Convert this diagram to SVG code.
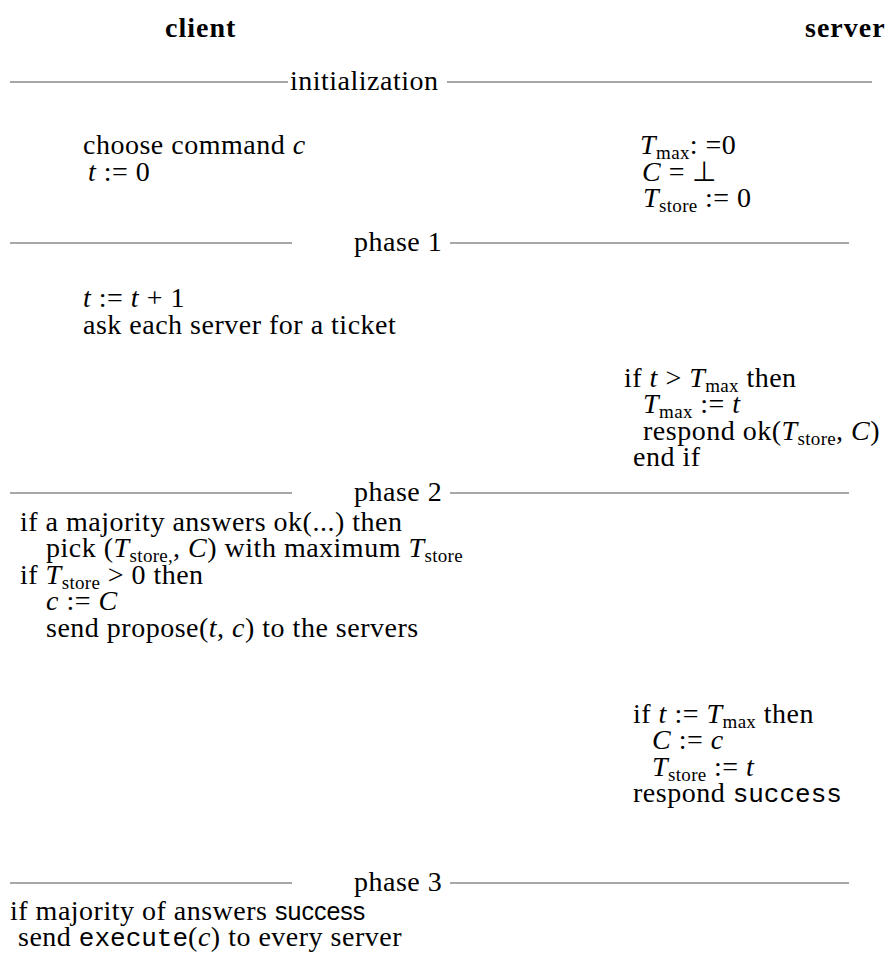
<svg xmlns="http://www.w3.org/2000/svg" width="888" height="960" viewBox="0 0 888 960">
<style>
.m{font-size:28px;fill:#000;letter-spacing:0.5px}
.b{font-weight:bold;letter-spacing:1px}
.i{font-style:italic}
.s{font-size:19px;letter-spacing:0.3px}
.sf{font-size:25px;letter-spacing:0}
.tt{font-size:26px;letter-spacing:0}
.rule{stroke:#8a8a8a;stroke-width:1.5;fill:none}
</style>
<rect width="888" height="960" fill="#fff"/>
<g id="header">
<text class="m b" font-family="Liberation Serif" x="165" y="37">client</text>
<text class="m b" font-family="Liberation Serif" x="805" y="37">server</text>
</g>
<g id="rules">
<line class="rule" x1="10" y1="82" x2="288" y2="82"/>
<line class="rule" x1="447" y1="82" x2="872" y2="82"/>
<line class="rule" x1="10" y1="243" x2="292" y2="243"/>
<line class="rule" x1="450" y1="243" x2="849" y2="243"/>
<line class="rule" x1="10" y1="493" x2="292" y2="493"/>
<line class="rule" x1="450" y1="493" x2="849" y2="493"/>
<line class="rule" x1="10" y1="883" x2="292" y2="883"/>
<line class="rule" x1="450" y1="883" x2="849" y2="883"/>
</g>
<g id="labels">
<text class="m" font-family="Liberation Serif" x="290" y="90">initialization</text>
<text class="m" font-family="Liberation Serif" x="354" y="251">phase 1</text>
<text class="m" font-family="Liberation Serif" x="354" y="501">phase 2</text>
<text class="m" font-family="Liberation Serif" x="354" y="891">phase 3</text>
</g>
<g id="init-client">
<text class="m" font-family="Liberation Serif" x="83" y="154">choose command <tspan class="i">c</tspan></text>
<text class="m" font-family="Liberation Serif" x="88" y="181"><tspan class="i">t</tspan> := 0</text>
</g>
<g id="init-server">
<text class="m" font-family="Liberation Serif" x="640" y="154"><tspan class="i">T</tspan><tspan class="s" dy="5">max</tspan><tspan dy="-5">: =0</tspan></text>
<text class="m" font-family="Liberation Serif" x="642" y="181"><tspan class="i">C</tspan> = ⊥</text>
<text class="m" font-family="Liberation Serif" x="643" y="207"><tspan class="i">T</tspan><tspan class="s" dy="5">store</tspan><tspan dy="-5"> := 0</tspan></text>
</g>
<g id="phase1-client">
<text class="m" font-family="Liberation Serif" x="83" y="307"><tspan class="i">t</tspan> := <tspan class="i">t</tspan> + 1</text>
<text class="m" font-family="Liberation Serif" x="83" y="334">ask each server for a ticket</text>
</g>
<g id="phase1-server">
<text class="m" font-family="Liberation Serif" x="624" y="387">if <tspan class="i">t</tspan> &gt; <tspan class="i">T</tspan><tspan class="s" dy="5">max</tspan><tspan dy="-5"> then</tspan></text>
<text class="m" font-family="Liberation Serif" x="643" y="413"><tspan class="i">T</tspan><tspan class="s" dy="5">max</tspan><tspan dy="-5"> := </tspan><tspan class="i">t</tspan></text>
<text class="m" font-family="Liberation Serif" x="643" y="440">respond ok(<tspan class="i">T</tspan><tspan class="s" dy="5">store</tspan><tspan dy="-5">, </tspan><tspan class="i">C</tspan>)</text>
<text class="m" font-family="Liberation Serif" x="633" y="466">end if</text>
</g>
<g id="phase2-client">
<text class="m" font-family="Liberation Serif" x="20" y="531">if a majority answers ok(...) then</text>
<text class="m" font-family="Liberation Serif" x="46" y="557" letter-spacing="0.2">pick (<tspan class="i">T</tspan><tspan class="s" dy="5">store,</tspan><tspan dy="-5">, </tspan><tspan class="i">C</tspan>) with maximum <tspan class="i">T</tspan><tspan class="s" dy="5">store</tspan></text>
<text class="m" font-family="Liberation Serif" x="20" y="584">if <tspan class="i">T</tspan><tspan class="s" dy="5">store</tspan><tspan dy="-5"> &gt; 0 then</tspan></text>
<text class="m" font-family="Liberation Serif" x="46" y="610"><tspan class="i">c</tspan> := <tspan class="i">C</tspan></text>
<text class="m" font-family="Liberation Serif" x="46" y="637">send propose(<tspan class="i">t</tspan>, <tspan class="i">c</tspan>) to the servers</text>
</g>
<g id="phase2-server">
<text class="m" font-family="Liberation Serif" x="633" y="723">if <tspan class="i">t</tspan> := <tspan class="i">T</tspan><tspan class="s" dy="5">max</tspan><tspan dy="-5"> then</tspan></text>
<text class="m" font-family="Liberation Serif" x="652" y="749"><tspan class="i">C</tspan> := <tspan class="i">c</tspan></text>
<text class="m" font-family="Liberation Serif" x="652" y="776"><tspan class="i">T</tspan><tspan class="s" dy="5">store</tspan><tspan dy="-5"> := </tspan><tspan class="i">t</tspan></text>
<text class="m" font-family="Liberation Serif" x="633" y="802">respond  <tspan class="tt" font-family="Liberation Mono">success</tspan></text>
</g>
<g id="phase3-client">
<text class="m" font-family="Liberation Serif" x="10" y="920">if majority of answers <tspan class="sf" font-family="Liberation Sans">success</tspan></text>
<text class="m" font-family="Liberation Serif" x="18" y="946">send <tspan class="tt" font-family="Liberation Mono">execute</tspan>(<tspan class="i">c</tspan>) to every server</text>
</g>
</svg>
